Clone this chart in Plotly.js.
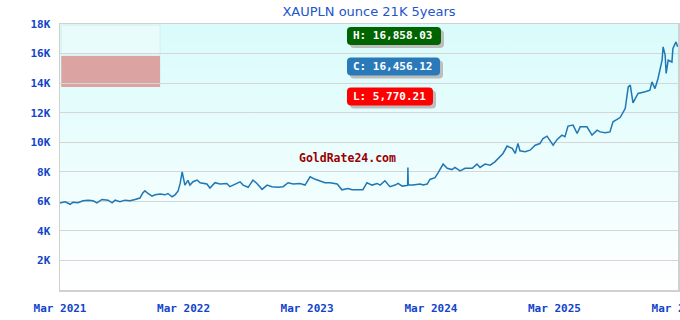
<!DOCTYPE html>
<html>
<head>
<meta charset="utf-8">
<script src="https://cdn.plot.ly/plotly-3.0.1.min.js"></script>
<style>
html,body{margin:0;padding:0;background:#fff;}
#chart{width:680px;height:320px;}
</style>
</head>
<body>
<div id="chart"></div>
<script>
// Price series (PLN per ounce, 21K gold)
const dates = [
"2021-03-01","2021-03-04","2021-03-16","2021-03-31","2021-04-08","2021-04-23","2021-05-08","2021-05-23",
"2021-06-07","2021-06-18","2021-07-03","2021-07-21","2021-08-02","2021-08-11","2021-08-25","2021-09-09",
"2021-09-24","2021-10-09","2021-10-23","2021-11-01","2021-11-07","2021-11-16","2021-11-28","2021-12-07",
"2021-12-22","2022-01-05","2022-01-14","2022-01-26","2022-02-04","2022-02-13","2022-02-19","2022-02-25",
"2022-02-27","2022-03-05","2022-03-14","2022-03-20","2022-03-29","2022-04-10","2022-04-19","2022-05-03",
"2022-05-09","2022-05-18","2022-05-27","2022-06-02","2022-06-17","2022-07-07","2022-07-16","2022-07-31",
"2022-08-15","2022-08-24","2022-09-08","2022-09-22","2022-10-04","2022-10-19","2022-11-03","2022-11-17",
"2022-12-05","2022-12-20","2023-01-04","2023-01-19","2023-02-08","2023-02-23","2023-03-10","2023-03-25",
"2023-04-08","2023-04-23","2023-05-08","2023-05-29","2023-06-12","2023-06-30","2023-07-12","2023-07-30",
"2023-08-13","2023-08-25","2023-09-09","2023-09-24","2023-10-03","2023-10-17","2023-11-01","2023-11-16",
"2023-11-25","2023-12-07","2023-12-21","2023-12-23","2023-12-24","2023-12-25","2024-01-08","2024-01-29",
"2024-02-07","2024-02-19","2024-02-27","2024-03-13","2024-03-22","2024-04-06","2024-04-18","2024-05-02",
"2024-05-11","2024-05-26","2024-06-10","2024-07-01","2024-07-15","2024-07-24","2024-08-08","2024-08-23",
"2024-09-06","2024-09-21","2024-09-30","2024-10-12","2024-10-27","2024-11-05","2024-11-13","2024-11-19",
"2024-12-04","2024-12-19","2025-01-03","2025-01-17","2025-01-26","2025-02-07","2025-02-16","2025-02-25",
"2025-03-09","2025-03-23","2025-04-01","2025-04-10","2025-04-25","2025-05-07","2025-05-16","2025-06-05",
"2025-06-20","2025-07-05","2025-07-14","2025-07-29","2025-08-12","2025-08-21","2025-09-11","2025-09-26",
"2025-10-05","2025-10-11","2025-10-19","2025-11-03","2025-11-24","2025-12-08","2025-12-14","2025-12-23",
"2026-01-01","2026-01-13","2026-01-16","2026-01-22","2026-01-25","2026-01-31","2026-02-11","2026-02-14",
"2026-02-23","2026-02-26","2026-02-28"
];
const prices = [
5880,5900,5970,5800,5930,5900,6040,6080,
6040,5900,6130,6080,5900,6080,5970,6080,
6040,6130,6220,6580,6710,6530,6350,6440,
6490,6440,6530,6310,6440,6710,7210,8000,
7780,7100,7420,7100,7330,7440,7260,7170,
7170,6900,7100,7260,7170,7210,6990,7170,
7320,7100,6950,7440,7210,6810,7100,6990,
6950,6990,7260,7170,7210,7100,7660,7490,
7400,7260,7260,7170,6780,6870,6780,6810,
6790,7260,7100,7210,7100,7390,6990,7100,
7210,7030,7080,7080,8290,7100,7100,7170,
7100,7170,7480,7600,7930,8520,8240,8150,
8290,8060,8240,8240,8520,8290,8520,8450,
8670,9010,9240,9740,9580,9240,9920,9420,
9350,9460,9800,9910,10250,10410,10140,9800,
10190,10480,10370,11090,11160,10590,11040,11040,
10480,10820,10700,10650,10700,11380,11670,12280,
13740,13860,12660,13300,13410,13520,14080,13630,
14310,15550,16450,15900,14650,15550,15430,16340,
16790,16560,16456
];
const xTickVals = ["2021-03-01","2022-03-01","2023-03-01","2024-03-01","2025-03-01","2026-03-01"];
const xTickText = ["Mar 2021","Mar 2022","Mar 2023","Mar 2024","Mar 2025","Mar 2026"];
const yTickVals = [2000,4000,6000,8000,10000,12000,14000,16000,18000];
const yTickText = ["2K","4K","6K","8K","10K","12K","14K","16K","18K"];
const statLabels = ["H: 16,858.03","C: 16,456.12","L: 5,770.21"];
const statColors = ["#006400","#2a7ab9","#ff0000"];
const titleText = "XAUPLN ounce 21K 5years";
const watermark = "GoldRate24.com";

const tickFont = {family:"DejaVu Sans Mono", size:11, color:"#1144cc", weight:"bold"};

const bgSvg = '<svg xmlns="http://www.w3.org/2000/svg" width="10" height="100" preserveAspectRatio="none">' +
 '<defs><linearGradient id="g" x1="0" y1="0" x2="0" y2="1"><stop offset="0" stop-color="#d9fbfb"/><stop offset="1" stop-color="#ffffff"/></linearGradient></defs>' +
 '<rect width="10" height="100" fill="url(#g)"/></svg>';

// rounded rectangle path in pixel units relative to an anchor (left, vertical middle)
function roundRect(x0, w, yc, h, r){
  const x1 = x0 + w, yb = yc - h/2, yt = yc + h/2;
  return `M${x0+r},${yb} L${x1-r},${yb} Q${x1},${yb} ${x1},${yb+r} L${x1},${yt-r} Q${x1},${yt} ${x1-r},${yt} ` +
         `L${x0+r},${yt} Q${x0},${yt} ${x0},${yt-r} L${x0},${yb+r} Q${x0},${yb} ${x0+r},${yb} Z`;
}

const boxX = 0.4644;
const statY = [0.955, 0.840, 0.727];
const statW = [94, 93, 86];
const shapes = [
  {type:"rect", xref:"paper", yref:"paper", x0:0.002, x1:0.162, y0:0.883, y1:0.996, fillcolor:"#e8fcfc", line:{color:"#d6eeee", width:1}, layer:"below"},
  {type:"rect", xref:"paper", yref:"paper", x0:0.002, x1:0.162, y0:0.763, y1:0.880, fillcolor:"#dca3a3", line:{width:0}, layer:"below"}
];
const annotations = [];
statLabels.forEach((t,i)=>{
  shapes.push({type:"path", xref:"paper", yref:"paper", xsizemode:"pixel", ysizemode:"pixel",
    xanchor:boxX, yanchor:statY[i], path:roundRect(3, statW[i], -3, 18, 4),
    fillcolor:"#bdbdbd", line:{width:0}, layer:"above"});
  shapes.push({type:"path", xref:"paper", yref:"paper", xsizemode:"pixel", ysizemode:"pixel",
    xanchor:boxX, yanchor:statY[i], path:roundRect(0, statW[i], 0, 18, 4),
    fillcolor:statColors[i], line:{width:0}, layer:"above"});
  annotations.push({xref:"paper",yref:"paper",x:boxX,y:statY[i],xanchor:"left",yanchor:"middle",
    xshift:4, text:t, showarrow:false,
    font:{family:"DejaVu Sans Mono",size:11,color:"#ffffff",weight:"bold"}});
});
annotations.push({xref:"paper",yref:"paper",x:0.466,y:0.498,xanchor:"center",yanchor:"middle",
  text:watermark, showarrow:false, font:{family:"DejaVu Sans Mono",size:11.5,color:"#990000",weight:"bold"}});

const layout = {
  width:680, height:320,
  margin:{l:60,r:2,t:24,b:30},
  paper_bgcolor:"#ffffff",
  plot_bgcolor:"rgba(0,0,0,0)",
  showlegend:false,
  title:{text:titleText, x:0.5, xref:"paper", xanchor:"center", y:0.963, yanchor:"middle",
    font:{family:"DejaVu Sans", size:13, color:"#2255cc"}},
  xaxis:{type:"date", range:["2021-03-01","2026-03-01"], tickvals:xTickVals, ticktext:xTickText,
    tickfont:tickFont, showgrid:false, zeroline:false, showline:true, mirror:true, linecolor:"#d0d0d0", linewidth:1.5,
    ticks:"outside", ticklen:7, tickcolor:"rgba(0,0,0,0)", ticklabeloverflow:"allow", fixedrange:true},
  yaxis:{range:[0,18000], tickvals:yTickVals, ticktext:yTickText, tickfont:tickFont,
    showgrid:true, gridcolor:"#d6d6d6", gridwidth:1, zeroline:false, showline:true, mirror:true,
    linecolor:"#d0d0d0", linewidth:1.5, ticks:"outside", ticklen:6, tickcolor:"rgba(0,0,0,0)", fixedrange:true},
  images:[{source:"data:image/svg+xml;charset=utf-8,"+encodeURIComponent(bgSvg), xref:"paper", yref:"paper",
    x:0, y:1, sizex:1, sizey:1, xanchor:"left", yanchor:"top", sizing:"stretch", layer:"below"}],
  shapes:shapes,
  annotations:annotations
};

Plotly.newPlot("chart", [{
  x:dates, y:prices, type:"scatter", mode:"lines",
  line:{color:"#1f77b4", width:1.5}, hoverinfo:"skip"
}], layout, {displayModeBar:false, staticPlot:true});
</script>
</body>
</html>
